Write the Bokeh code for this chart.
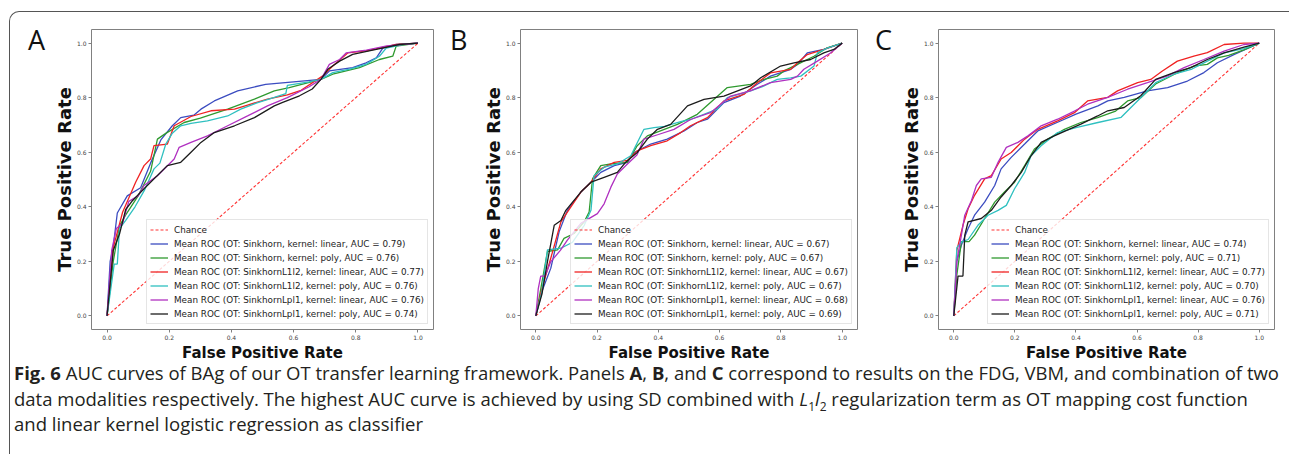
from bokeh.plotting import figure
from bokeh.layouts import row, column
from bokeh.models import Div, FixedTicker, Range1d
from bokeh.embed import file_html
from bokeh.resources import INLINE

# ---------------- data ----------------
tick_values = [0.0, 0.2, 0.4, 0.6, 0.8, 1.0]
tick_labels = ["0.0", "0.2", "0.4", "0.6", "0.8", "1.0"]
panel_letters = ["A", "B", "C"]

series_names = [
    "OT: Sinkhorn, kernel: linear",
    "OT: Sinkhorn, kernel: poly",
    "OT: SinkhornL1l2, kernel: linear",
    "OT: SinkhornL1l2, kernel: poly",
    "OT: SinkhornLpl1, kernel: linear",
    "OT: SinkhornLpl1, kernel: poly",
]
auc_a = [0.79, 0.76, 0.77, 0.76, 0.76, 0.74]
auc_b = [0.67, 0.67, 0.67, 0.67, 0.68, 0.69]
auc_c = [0.74, 0.71, 0.77, 0.70, 0.76, 0.71]

chance_fpr = [0.0, 1.0]
chance_tpr = [0.0, 1.0]

# Panel A (FDG)
a_sk_lin_fpr = [0, 0.01, 0.02, 0.033, 0.065, 0.108, 0.14, 0.173, 0.21, 0.237, 0.279, 0.302, 0.345, 0.42, 0.51, 0.60, 0.688, 0.715, 0.79, 0.833, 0.866, 0.887, 0.93, 1.0]
a_sk_lin_tpr = [0, 0.2, 0.255, 0.377, 0.44, 0.47, 0.56, 0.645, 0.697, 0.727, 0.736, 0.758, 0.788, 0.825, 0.849, 0.858, 0.867, 0.898, 0.91, 0.928, 0.946, 0.982, 0.995, 1.0]
a_sk_poly_fpr = [0, 0.02, 0.04, 0.06, 0.1, 0.14, 0.162, 0.19, 0.248, 0.3, 0.388, 0.474, 0.538, 0.586, 0.688, 0.726, 0.812, 0.876, 0.919, 0.93, 1.0]
a_sk_poly_tpr = [0, 0.2, 0.33, 0.37, 0.44, 0.53, 0.648, 0.67, 0.709, 0.725, 0.758, 0.795, 0.825, 0.837, 0.867, 0.886, 0.91, 0.94, 0.952, 0.989, 1.0]
a_l1_lin_fpr = [0, 0.02, 0.05, 0.092, 0.119, 0.14, 0.151, 0.194, 0.216, 0.27, 0.334, 0.41, 0.452, 0.516, 0.58, 0.624, 0.694, 0.726, 0.774, 0.84, 0.876, 0.93, 1.0]
a_l1_lin_tpr = [0, 0.25, 0.38, 0.49, 0.551, 0.575, 0.624, 0.63, 0.697, 0.731, 0.752, 0.758, 0.773, 0.795, 0.81, 0.827, 0.88, 0.916, 0.964, 0.973, 0.982, 0.995, 1.0]
a_l1_poly_fpr = [0, 0.023, 0.033, 0.04, 0.06, 0.09, 0.12, 0.151, 0.17, 0.189, 0.21, 0.237, 0.27, 0.323, 0.388, 0.43, 0.48, 0.538, 0.575, 0.58, 0.65, 0.688, 0.726, 0.78, 0.833, 0.876, 0.898, 0.95, 1.0]
a_l1_poly_tpr = [0, 0.19, 0.19, 0.32, 0.35, 0.4, 0.46, 0.539, 0.56, 0.63, 0.67, 0.697, 0.706, 0.715, 0.733, 0.758, 0.78, 0.801, 0.815, 0.845, 0.858, 0.867, 0.892, 0.905, 0.922, 0.952, 0.982, 0.995, 1.0]
a_lp_lin_fpr = [0, 0.015, 0.03, 0.05, 0.07, 0.1, 0.119, 0.162, 0.216, 0.232, 0.27, 0.323, 0.388, 0.452, 0.516, 0.58, 0.65, 0.688, 0.715, 0.748, 0.769, 0.834, 0.9, 1.0]
a_lp_lin_tpr = [0, 0.24, 0.32, 0.34, 0.42, 0.44, 0.478, 0.514, 0.575, 0.618, 0.636, 0.66, 0.697, 0.733, 0.77, 0.8, 0.84, 0.867, 0.922, 0.94, 0.964, 0.974, 0.99, 1.0]
a_lp_poly_fpr = [0, 0.02, 0.04, 0.06, 0.08, 0.119, 0.194, 0.237, 0.27, 0.302, 0.345, 0.41, 0.474, 0.538, 0.565, 0.619, 0.66, 0.688, 0.71, 0.748, 0.79, 0.866, 0.94, 1.0]
a_lp_poly_tpr = [0, 0.24, 0.3, 0.39, 0.42, 0.466, 0.551, 0.563, 0.6, 0.636, 0.672, 0.697, 0.727, 0.77, 0.783, 0.807, 0.832, 0.867, 0.904, 0.934, 0.959, 0.977, 0.995, 1.0]

# Panel B (VBM)
b_sk_lin_fpr = [0, 0.02, 0.049, 0.076, 0.103, 0.147, 0.18, 0.212, 0.256, 0.299, 0.321, 0.375, 0.429, 0.484, 0.527, 0.56, 0.614, 0.668, 0.723, 0.766, 0.832, 0.854, 0.886, 0.94, 1.0]
b_sk_lin_tpr = [0, 0.09, 0.175, 0.308, 0.387, 0.454, 0.49, 0.526, 0.551, 0.563, 0.599, 0.63, 0.648, 0.678, 0.709, 0.721, 0.782, 0.806, 0.849, 0.879, 0.904, 0.922, 0.964, 0.977, 1.0]
b_sk_poly_fpr = [0, 0.016, 0.038, 0.071, 0.092, 0.125, 0.158, 0.174, 0.185, 0.212, 0.245, 0.299, 0.331, 0.364, 0.462, 0.527, 0.625, 0.701, 0.745, 0.788, 0.81, 0.854, 0.908, 0.951, 1.0]
b_sk_poly_tpr = [0, 0.098, 0.236, 0.242, 0.284, 0.302, 0.345, 0.381, 0.502, 0.551, 0.557, 0.563, 0.624, 0.66, 0.702, 0.739, 0.837, 0.849, 0.867, 0.879, 0.898, 0.922, 0.952, 0.983, 1.0]
b_l1_lin_fpr = [0, 0.02, 0.049, 0.082, 0.103, 0.147, 0.18, 0.212, 0.256, 0.299, 0.331, 0.375, 0.429, 0.473, 0.505, 0.56, 0.614, 0.679, 0.723, 0.766, 0.832, 0.854, 0.886, 0.94, 1.0]
b_l1_lin_tpr = [0, 0.1, 0.212, 0.345, 0.38, 0.454, 0.49, 0.539, 0.563, 0.57, 0.605, 0.624, 0.642, 0.672, 0.697, 0.727, 0.788, 0.812, 0.855, 0.891, 0.904, 0.928, 0.958, 0.977, 1.0]
b_l1_poly_fpr = [0, 0.02, 0.038, 0.082, 0.12, 0.158, 0.18, 0.19, 0.223, 0.266, 0.31, 0.353, 0.386, 0.42, 0.473, 0.505, 0.592, 0.625, 0.701, 0.745, 0.788, 0.832, 0.865, 0.908, 0.919, 0.951, 1.0]
b_l1_poly_tpr = [0, 0.09, 0.242, 0.248, 0.27, 0.332, 0.387, 0.514, 0.545, 0.557, 0.587, 0.684, 0.69, 0.695, 0.712, 0.72, 0.758, 0.8, 0.825, 0.843, 0.867, 0.873, 0.879, 0.916, 0.964, 0.982, 1.0]
b_lp_lin_fpr = [0, 0.008, 0.016, 0.03, 0.049, 0.08, 0.103, 0.147, 0.201, 0.223, 0.245, 0.266, 0.299, 0.33, 0.353, 0.4, 0.451, 0.505, 0.57, 0.636, 0.7, 0.766, 0.832, 0.854, 0.875, 0.919, 0.962, 1.0]
b_lp_lin_tpr = [0, 0.1, 0.146, 0.146, 0.199, 0.24, 0.278, 0.339, 0.375, 0.411, 0.472, 0.52, 0.557, 0.59, 0.648, 0.665, 0.684, 0.72, 0.745, 0.806, 0.825, 0.855, 0.867, 0.879, 0.904, 0.934, 0.964, 1.0]
b_lp_poly_fpr = [0, 0.02, 0.038, 0.06, 0.082, 0.098, 0.12, 0.147, 0.18, 0.223, 0.266, 0.293, 0.331, 0.364, 0.397, 0.44, 0.495, 0.549, 0.614, 0.701, 0.734, 0.799, 0.843, 0.897, 0.94, 0.973, 1.0]
b_lp_poly_tpr = [0, 0.08, 0.199, 0.332, 0.35, 0.387, 0.417, 0.454, 0.49, 0.508, 0.526, 0.563, 0.599, 0.648, 0.684, 0.702, 0.77, 0.794, 0.806, 0.843, 0.873, 0.916, 0.928, 0.94, 0.964, 0.977, 1.0]

# Panel C (FDG + VBM)
c_sk_lin_fpr = [0, 0.01, 0.025, 0.047, 0.068, 0.101, 0.134, 0.155, 0.188, 0.232, 0.275, 0.34, 0.4, 0.472, 0.504, 0.558, 0.634, 0.7, 0.765, 0.819, 0.863, 0.917, 1.0]
c_sk_lin_tpr = [0, 0.2, 0.26, 0.32, 0.369, 0.417, 0.478, 0.539, 0.581, 0.63, 0.678, 0.71, 0.74, 0.77, 0.788, 0.801, 0.825, 0.837, 0.861, 0.892, 0.928, 0.958, 1.0]
c_sk_poly_fpr = [0, 0.01, 0.025, 0.05, 0.068, 0.101, 0.134, 0.166, 0.199, 0.232, 0.264, 0.308, 0.362, 0.416, 0.471, 0.53, 0.569, 0.612, 0.661, 0.721, 0.786, 0.83, 0.863, 0.9, 0.95, 1.0]
c_sk_poly_tpr = [0, 0.15, 0.272, 0.272, 0.296, 0.357, 0.417, 0.454, 0.49, 0.551, 0.612, 0.648, 0.684, 0.709, 0.727, 0.751, 0.788, 0.80, 0.85, 0.885, 0.916, 0.922, 0.946, 0.955, 0.975, 1.0]
c_l1_lin_fpr = [0, 0.01, 0.03, 0.047, 0.068, 0.101, 0.123, 0.155, 0.188, 0.232, 0.275, 0.34, 0.395, 0.438, 0.504, 0.536, 0.602, 0.645, 0.683, 0.732, 0.786, 0.83, 0.885, 0.95, 1.0]
c_l1_lin_tpr = [0, 0.24, 0.332, 0.393, 0.442, 0.502, 0.514, 0.575, 0.599, 0.648, 0.684, 0.715, 0.745, 0.788, 0.801, 0.825, 0.855, 0.867, 0.898, 0.934, 0.952, 0.965, 0.995, 1.0, 1.0]
c_l1_poly_fpr = [0, 0.01, 0.025, 0.047, 0.079, 0.112, 0.145, 0.172, 0.199, 0.232, 0.253, 0.286, 0.34, 0.4, 0.472, 0.548, 0.612, 0.661, 0.721, 0.78, 0.83, 0.885, 0.95, 1.0]
c_l1_poly_tpr = [0, 0.25, 0.27, 0.28, 0.332, 0.369, 0.387, 0.405, 0.466, 0.526, 0.587, 0.624, 0.672, 0.69, 0.709, 0.728, 0.8, 0.855, 0.886, 0.905, 0.934, 0.964, 0.98, 1.0]
c_lp_lin_fpr = [0, 0.01, 0.025, 0.036, 0.058, 0.074, 0.09, 0.123, 0.145, 0.172, 0.21, 0.243, 0.286, 0.34, 0.395, 0.438, 0.504, 0.569, 0.634, 0.7, 0.754, 0.819, 0.885, 0.95, 1.0]
c_lp_lin_tpr = [0, 0.2, 0.296, 0.369, 0.423, 0.478, 0.502, 0.508, 0.563, 0.618, 0.636, 0.66, 0.697, 0.721, 0.751, 0.776, 0.801, 0.831, 0.855, 0.88, 0.91, 0.94, 0.971, 0.995, 1.0]
c_lp_poly_fpr = [0, 0.014, 0.03, 0.036, 0.047, 0.09, 0.123, 0.155, 0.188, 0.221, 0.253, 0.286, 0.329, 0.416, 0.471, 0.504, 0.558, 0.612, 0.661, 0.721, 0.776, 0.83, 0.885, 0.95, 1.0]
c_lp_poly_tpr = [0, 0.146, 0.146, 0.296, 0.345, 0.357, 0.387, 0.436, 0.478, 0.526, 0.587, 0.636, 0.66, 0.703, 0.733, 0.752, 0.764, 0.807, 0.867, 0.892, 0.91, 0.94, 0.964, 0.985, 1.0]

panel_a = [(a_sk_lin_fpr, a_sk_lin_tpr), (a_sk_poly_fpr, a_sk_poly_tpr), (a_l1_lin_fpr, a_l1_lin_tpr),
           (a_l1_poly_fpr, a_l1_poly_tpr), (a_lp_lin_fpr, a_lp_lin_tpr), (a_lp_poly_fpr, a_lp_poly_tpr)]
panel_b = [(b_sk_lin_fpr, b_sk_lin_tpr), (b_sk_poly_fpr, b_sk_poly_tpr), (b_l1_lin_fpr, b_l1_lin_tpr),
           (b_l1_poly_fpr, b_l1_poly_tpr), (b_lp_lin_fpr, b_lp_lin_tpr), (b_lp_poly_fpr, b_lp_poly_tpr)]
panel_c = [(c_sk_lin_fpr, c_sk_lin_tpr), (c_sk_poly_fpr, c_sk_poly_tpr), (c_l1_lin_fpr, c_l1_lin_tpr),
           (c_l1_poly_fpr, c_l1_poly_tpr), (c_lp_lin_fpr, c_lp_lin_tpr), (c_lp_poly_fpr, c_lp_poly_tpr)]

# ---------------- styling ----------------
COLORS = ["#3b4cc0", "#2f9a2f", "#f02222", "#2fc0c0", "#b030c0", "#1c1c1c"]
FIG_H = 352
FRAME_TOP = 17
FRAME_H = 301


def make_panel(curves, aucs, width, left, right):
    p = figure(width=width, height=FIG_H,
               x_range=Range1d(-0.05, 1.05), y_range=Range1d(-0.05, 1.05),
               output_backend="svg", toolbar_location=None,
               min_border_left=left, min_border_right=right,
               min_border_top=FRAME_TOP, min_border_bottom=FIG_H - FRAME_TOP - FRAME_H)
    p.grid.visible = False
    p.outline_line_color = "#808080"
    p.outline_line_width = 1
    p.background_fill_color = "white"
    p.border_fill_color = "white"

    p.line(chance_fpr, chance_tpr, line_color="#ff0000", line_alpha=0.8, line_width=1.1,
           line_dash="3 2", legend_label="Chance")
    for (fx, ty), auc, name, col in zip(curves, aucs, series_names, COLORS):
        p.line(fx, ty, line_color=col, line_width=1.3,
               legend_label=f"Mean ROC ({name}, AUC = {auc:.2f})")

    for ax in (p.xaxis, p.yaxis):
        ax.ticker = FixedTicker(ticks=tick_values)
        ax.major_label_overrides = {v: s for v, s in zip(tick_values, tick_labels)}
        ax.major_label_text_font = "DejaVu Sans"
        ax.major_label_text_font_size = "6px"
        ax.major_label_text_color = "#444444"
        ax.major_tick_out = 3
        ax.major_tick_in = 0
        ax.major_tick_line_color = "#808080"
        ax.minor_tick_line_color = None
        ax.axis_line_color = None
        ax.major_label_standoff = 2
        ax.axis_label_text_font = "DejaVu Sans"
        ax.axis_label_text_font_style = "bold"
        ax.axis_label_text_color = "#111111"
    p.xaxis.axis_label = "False Positive Rate"
    p.xaxis.axis_label_text_font_size = "15px"
    p.xaxis.axis_label_standoff = 1
    p.yaxis.axis_label = "True Positive Rate"
    p.yaxis.axis_label_text_font_size = "18px"
    p.yaxis.axis_label_standoff = -1

    lg = p.legend[0]
    lg.location = "bottom_right"
    lg.margin = 5
    lg.padding = 3
    lg.spacing = 1
    lg.glyph_width = 18
    lg.glyph_height = 13
    lg.label_height = 13
    lg.label_standoff = 6
    lg.label_text_font = "DejaVu Sans"
    lg.label_text_font_size = "8.8px"
    lg.label_text_color = "#222222"
    lg.border_line_color = "#cccccc"
    lg.border_line_width = 1
    lg.background_fill_alpha = 0.8
    return p


def letter_div(letter, width, pad_left):
    html = (f"<div style=\"font-family:'Open Sans',sans-serif;font-size:27px;line-height:26px;"
            f"color:#111111;padding-top:15px;padding-left:{pad_left}px;\">{letter}</div>")
    return Div(text=html, width=width, height=FIG_H, margin=(0, 0, 0, 0))


pA = make_panel(panel_a, auc_a, 396, 41, 13)
pB = make_panel(panel_b, auc_b, 400, 50, 13)
pC = make_panel(panel_c, auc_c, 392, 40, 15)
dA = letter_div(panel_letters[0], 40, 18)
dB = letter_div(panel_letters[1], 24, 4)
dC = letter_div(panel_letters[2], 27, 5)

caption_html = (
    "<div style=\"font-family:'Open Sans',sans-serif;font-size:18.5px;line-height:25.5px;"
    "color:#231f20;white-space:nowrap;padding-left:4px;margin-top:-4px;\">"
    "<b>Fig. 6</b> AUC curves of BAg of our OT transfer learning framework. Panels <b>A</b>, <b>B</b>, and <b>C</b> "
    "correspond to results on the FDG, VBM, and combination of two<br>"
    "data modalities respectively. The highest AUC curve is achieved by using SD combined with "
    "<i>L</i><sub style=\"font-size:12px;line-height:0\">1</sub><i>l</i><sub style=\"font-size:12px;line-height:0\">2</sub> "
    "regularization term as OT mapping cost function<br>"
    "and linear kernel logistic regression as classifier</div>"
)
caption = Div(text=caption_html, width=1279, height=90, margin=(0, 0, 0, 0))

layout = column(row(dA, pA, dB, pB, dC, pC), caption, margin=(11, 0, 0, 9),
                styles={"border-top": "1.5px solid #555555", "border-left": "1.5px solid #555555",
                        "border-top-left-radius": "10px", "background-color": "white"})

open("out.html", "w").write(file_html(layout, INLINE))
